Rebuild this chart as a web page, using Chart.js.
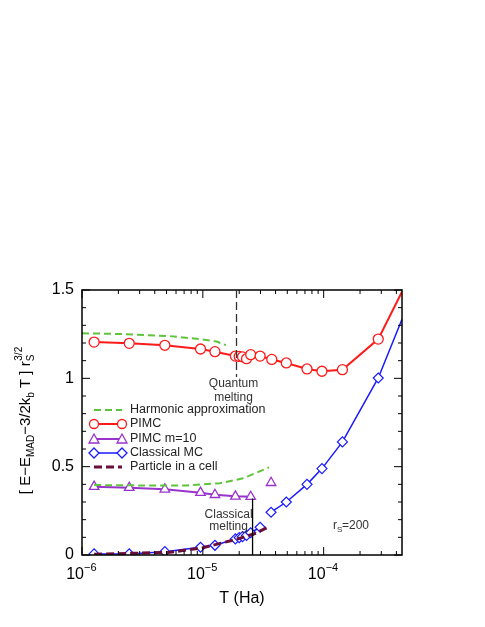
<!DOCTYPE html><html><head><script src="https://cdn.jsdelivr.net/npm/chart.js@4"></script>
<style>body{margin:0;background:#fff}</style></head><body>
<div style="width:485px;height:627px"><canvas id="c"></canvas></div>
<script>
const pimcT=[1.26e-6,2.46e-6,4.85e-6,9.57e-6,1.26e-5,1.86e-5,2.0e-5,2.13e-5,2.3e-5,2.49e-5,2.98e-5,3.72e-5,4.91e-5,7.28e-5,9.68e-5,1.43e-4,2.83e-4,4.45e-4];
const pimcE=[1.205,1.198,1.187,1.166,1.151,1.126,1.124,1.122,1.111,1.134,1.126,1.107,1.087,1.053,1.040,1.049,1.222,1.49];
const harmHiT=[1e-6,2.06e-6,5.33e-6,1.0e-5,1.3e-5,1.55e-5];
const harmHiE=[1.255,1.251,1.239,1.220,1.208,1.188];
const harmLoT=[1.26e-6,2.83e-6,7.3e-6,1.38e-5,2.15e-5,3.53e-5];
const harmLoE=[0.396,0.394,0.394,0.406,0.434,0.496];
const m10T=[1.26e-6,2.46e-6,4.85e-6,9.57e-6,1.26e-5,1.86e-5,2.49e-5,3.1e-5,3.67e-5];
const m10E=[0.387,0.381,0.372,0.353,0.341,0.332,0.330,null,0.409];
const cmcT=[1.26e-6,2.46e-6,4.85e-6,9.57e-6,1.26e-5,1.86e-5,2.0e-5,2.13e-5,2.3e-5,2.49e-5,2.98e-5,3.3e-5,3.67e-5,4.91e-5,7.28e-5,9.68e-5,1.43e-4,2.83e-4,4.45e-4];
const cmcE=[0.006,0.006,0.019,0.044,0.055,0.091,0.098,0.104,0.111,0.126,0.157,null,0.242,0.300,0.400,0.489,0.640,1.002,1.334];
const picT=[1.26e-6,5.33e-6,1.0e-5,1.9e-5,2.74e-5,3.53e-5];
const picE=[0.004,0.015,0.041,0.089,0.123,0.160];
const yTicks=[0,0.5,1,1.5];
const xTicks=[-6,-5,-4];
const qMeltT=1.9e-5, cMeltT=2.58e-5;

const pts=(t,e)=>t.map((x,i)=>({x:x,y:e[i]}));
const F='"Liberation Sans", Arial, sans-serif';
const lastNo=(n,r)=>Array.from({length:n},(_,i)=>i===n-1?0:r);
const ds=[
 {data:pts(harmHiT,harmHiE),borderColor:'#5ec43a',borderDash:[7,4],borderWidth:2,pointRadius:0},
 {data:pts(harmLoT,harmLoE),borderColor:'#5ec43a',borderDash:[7,4],borderWidth:2,pointRadius:0},
 {data:pts(pimcT,pimcE),borderColor:'#ff1a1a',backgroundColor:'#fff',borderWidth:2,pointStyle:'circle',pointRadius:lastNo(pimcT.length,5),pointBorderWidth:1.3},
 {data:pts(m10T,m10E),borderColor:'#9933cc',backgroundColor:'#fff',borderWidth:2,pointStyle:'triangle',pointRadius:5.5,pointBorderWidth:1.3},
 {data:pts(picT,picE),borderColor:'#6b0f3a',borderDash:[8,4],borderWidth:3,pointRadius:0},
 {data:pts(cmcT,cmcE),borderColor:'#1a1aff',backgroundColor:'#fff',borderWidth:1.5,pointStyle:'rectRot',pointRadius:lastNo(cmcT.length,5),pointBorderWidth:1.2},
];
const deco={id:'deco',afterDraw(ch){
 const c=ch.ctx,a=ch.chartArea,xs=ch.scales.x,ys=ch.scales.y;
 c.save();c.strokeStyle='#000';c.lineWidth=1.5;c.strokeRect(a.left,a.top,a.right-a.left,a.bottom-a.top);
 c.lineWidth=1;
 for(let d=-6;d<=-4;d++)for(let k=1;k<=9;k++){const v=k*Math.pow(10,d);if(v>xs.max)break;const p=xs.getPixelForValue(v);const L=k===1?8:4;
  c.beginPath();c.moveTo(p,a.bottom);c.lineTo(p,a.bottom-L);c.moveTo(p,a.top);c.lineTo(p,a.top+L);c.stroke();}
 for(let v=0;v<=1.5001;v+=0.1){const p=ys.getPixelForValue(v);const maj=Math.abs(v*2-Math.round(v*2))<1e-6;const L=maj?8:4;
  c.beginPath();c.moveTo(a.left,p);c.lineTo(a.left+L,p);c.moveTo(a.right,p);c.lineTo(a.right-L,p);c.stroke();}
 c.fillStyle='#000';c.font='16px '+F;c.textAlign='right';c.textBaseline='middle';
 yTicks.forEach(v=>c.fillText(String(v),a.left-8,ys.getPixelForValue(v)));
 xTicks.forEach(d=>{const p=xs.getPixelForValue(Math.pow(10,d));c.font='16px '+F;c.textAlign='right';c.textBaseline='alphabetic';c.fillText('10',p+2,a.bottom+24);c.font='11px '+F;c.textAlign='left';c.fillText(String(d).replace('-','\u2212'),p+2,a.bottom+16);});
 c.font='16px '+F;c.textAlign='center';c.fillText('T (Ha)',(a.left+a.right)/2,a.bottom+48);
 let q=xs.getPixelForValue(qMeltT);c.strokeStyle='#333';c.lineWidth=1.3;c.setLineDash([8,4]);c.beginPath();c.moveTo(q,a.top);c.lineTo(q,ys.getPixelForValue(1.007));c.stroke();
 c.setLineDash([]);let m=xs.getPixelForValue(cMeltT);c.strokeStyle='#000';c.beginPath();c.moveTo(m,ys.getPixelForValue(0.32));c.lineTo(m,a.bottom);c.stroke();
 c.fillStyle='#333';c.font='12px '+F;c.textAlign='center';
 c.fillText('Quantum',q-3,387);c.fillText('melting',q-3,401);
 c.fillText('Classical',m-24,518);c.fillText('melting',m-24,530);
 c.textAlign='left';c.fillText('r',333,529);c.font='8px '+F;c.fillText('S',337,532);c.font='12px '+F;c.fillText('=200',342,529);
 const leg=[[0,'Harmonic approximation',410],[2,'PIMC',424],[3,'PIMC m=10',439],[5,'Classical MC',453],[4,'Particle in a cell',467]];
 leg.forEach(([i,t,y])=>{const d=ds[i];c.strokeStyle=d.borderColor;c.lineWidth=d.borderWidth;c.setLineDash(d.borderDash||[]);c.beginPath();c.moveTo(94,y);c.lineTo(122,y);c.stroke();c.setLineDash([]);
  if(d.pointStyle){c.lineWidth=1.3;c.fillStyle='#fff';[94,122].forEach(x=>{c.beginPath();if(d.pointStyle==='circle')c.arc(x,y,4.5,0,7);else if(d.pointStyle==='triangle'){c.moveTo(x,y-5);c.lineTo(x+5,y+4);c.lineTo(x-5,y+4);c.closePath();}else{c.moveTo(x,y-5);c.lineTo(x+5,y);c.lineTo(x,y+5);c.lineTo(x-5,y);c.closePath();}c.fill();c.stroke();});}
  c.fillStyle='#222';c.font='12.5px '+F;c.textBaseline='middle';c.fillText(t,130,y);});
 c.translate(30,(a.top+a.bottom)/2);c.rotate(-Math.PI/2);c.fillStyle='#000';c.textBaseline='alphabetic';
 const parts=[['[ E\u2212E',15,0],['MAD',10,4],['\u22123/2k',15,0],['b',10,4],[' T ] r',15,0],['S',10,4],['3/2',10,-8]];
 let w=0;parts.forEach(p=>{c.font=p[1]+'px '+F;w+=c.measureText(p[0]).width;});w-=10;
 let x=-w/2;parts.forEach((p,i)=>{c.font=p[1]+'px '+F;c.textAlign='left';if(i===6)x-=c.measureText('S').width*0.9;c.fillText(p[0],x,p[2]);x+=c.measureText(p[0]).width;});
 c.restore();}};
new Chart(document.getElementById('c'),{type:'line',data:{datasets:ds},plugins:[deco],
 options:{responsive:true,maintainAspectRatio:false,animation:false,spanGaps:false,
  layout:{padding:{left:82,right:83,top:290,bottom:72}},
  plugins:{legend:{display:false},tooltip:{enabled:false}},
  scales:{x:{type:'logarithmic',min:1e-6,max:4.45e-4,grid:{display:false},border:{display:false},ticks:{display:false},afterFit(s){s.height=0;}},
   y:{min:0,max:1.5,grid:{display:false},border:{display:false},ticks:{display:false},afterFit(s){s.width=0;}}}}});
</script></body></html>
